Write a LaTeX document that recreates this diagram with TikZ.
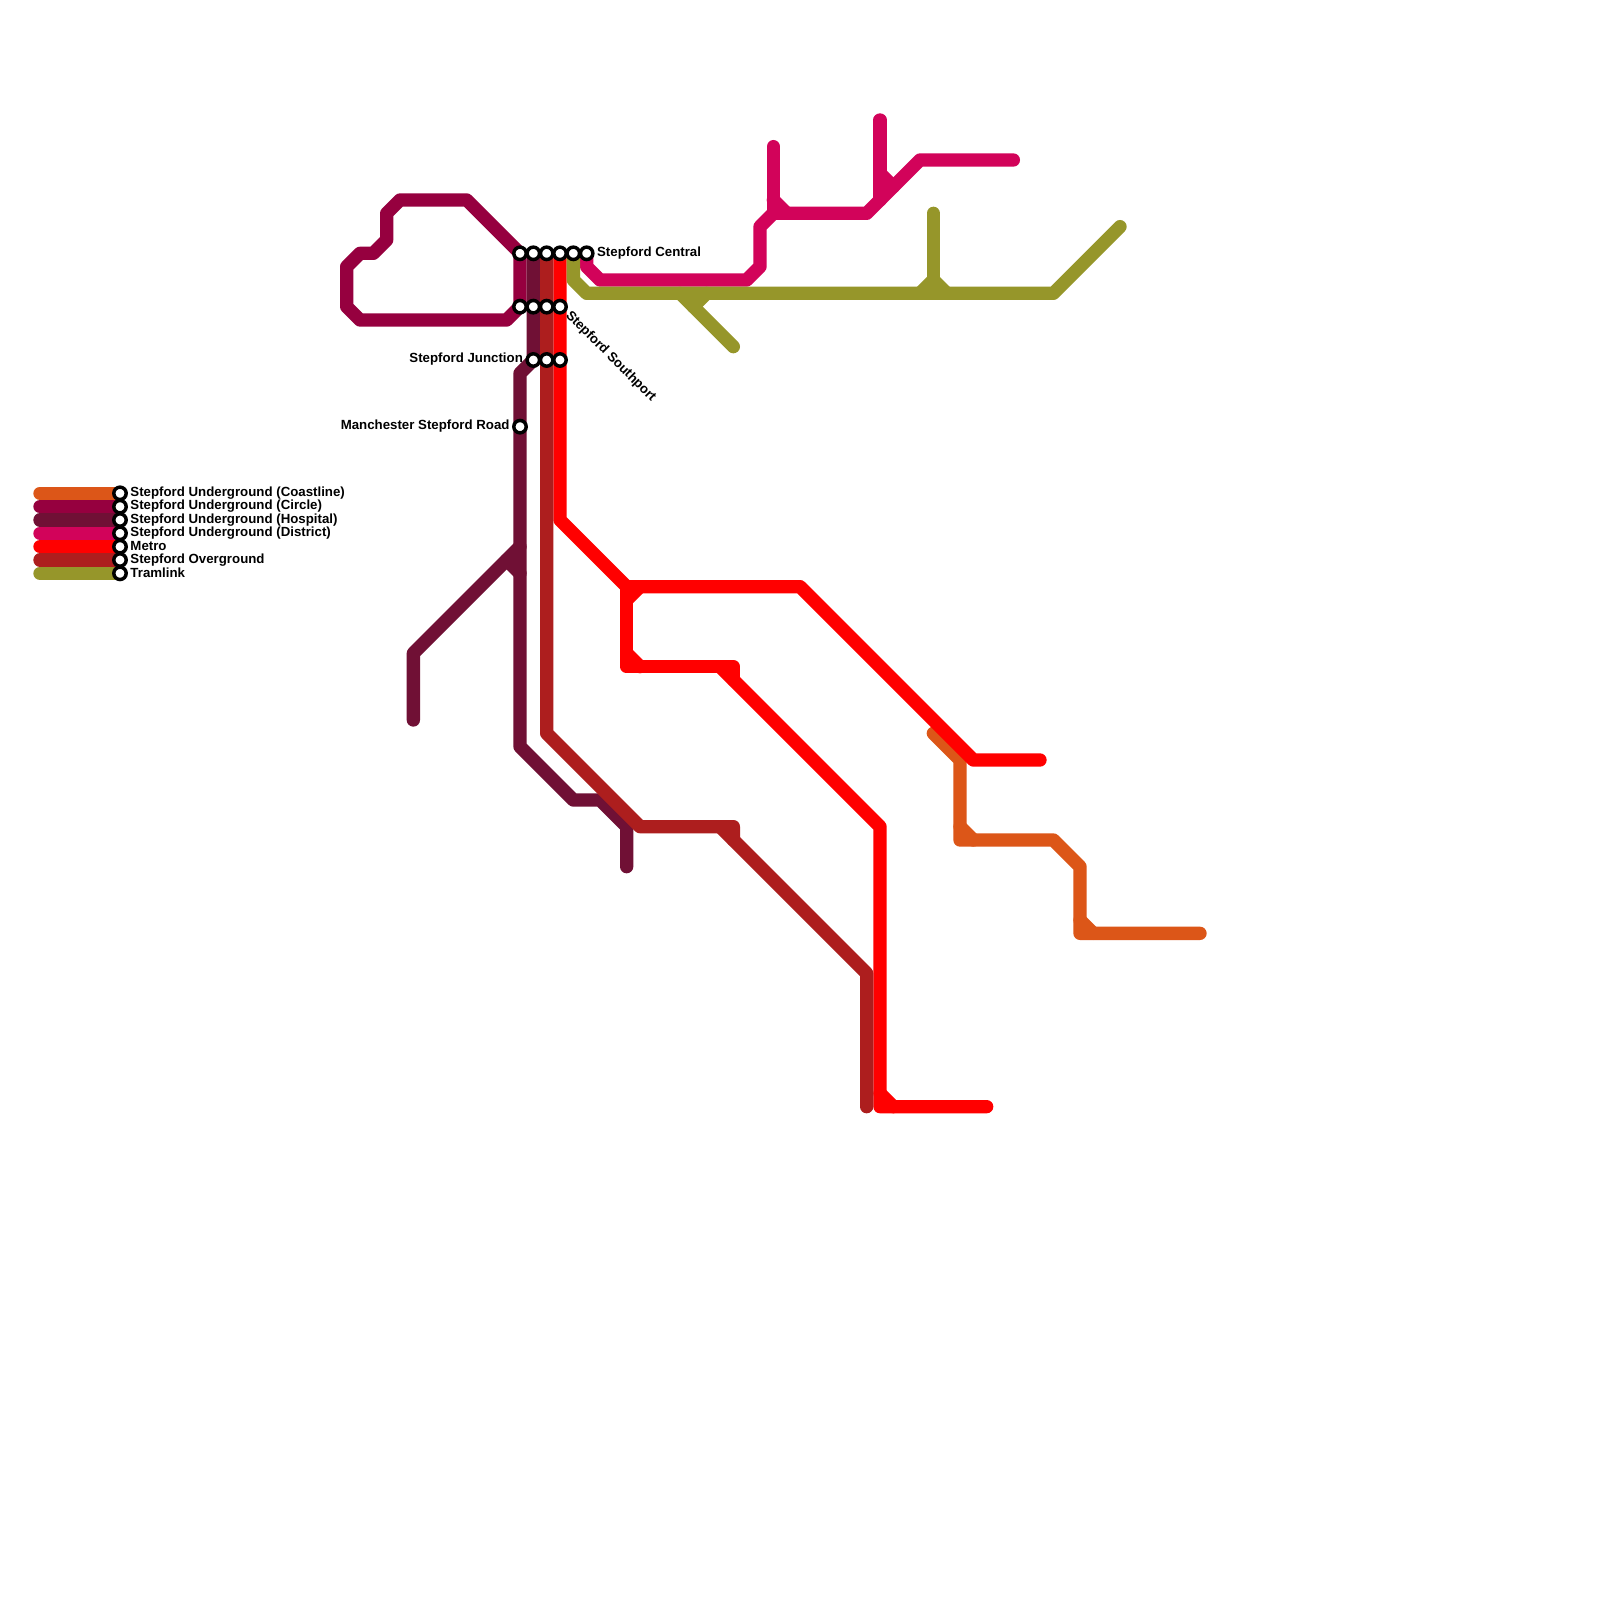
\documentclass[tikz,border=0pt]{standalone}
\usepackage{fontspec}
\setmainfont{Liberation Sans}
\definecolor{coast}{HTML}{DC5618}
\definecolor{circ}{HTML}{96003F}
\definecolor{hosp}{HTML}{701035}
\definecolor{dist}{HTML}{D2035A}
\definecolor{metro}{HTML}{FF0000}
\definecolor{over}{HTML}{AD1E1E}
\definecolor{tram}{HTML}{96962A}
\tikzset{
  rail/.style={line width=0.2cm,line cap=round,line join=round},
  stn/.style={circle,draw=black,fill=white,line width=0.052cm,minimum size=0.186cm,inner sep=0pt},
  lbl/.style={inner sep=0pt,font=\fontsize{5.66pt}{6.6pt}\selectfont\bfseries,text=black}
}
\begin{document}
\begin{tikzpicture}[x=0.2cm,y=-0.2cm]
\useasboundingbox (0,0) rectangle (120,120);
\fill[white] (0,0) rectangle (120,120);
% station positions
\coordinate (a1) at (39,19); \coordinate (a2) at (40,19); \coordinate (a3) at (41,19);
\coordinate (a4) at (42,19); \coordinate (a5) at (43,19); \coordinate (a6) at (44,19);
\coordinate (b1) at (39,23); \coordinate (b2) at (40,23); \coordinate (b3) at (41,23); \coordinate (b4) at (42,23);
\coordinate (c2) at (40,27); \coordinate (c3) at (41,27); \coordinate (c4) at (42,27);
\coordinate (d1) at (39,32);
\foreach \n/\y in {1/37,2/38,3/39,4/40,5/41,6/42,7/43}{
  \coordinate (kl\n) at (3,\y); \coordinate (kr\n) at (9,\y);
}
% Coastline
\draw[rail,coast] (70,55) -- (72,57) -- (72,63) -- (79,63) -- (81,65) -- (81,70) -- (90,70);
\draw[rail,coast] (72,62) -- (73,63);
\draw[rail,coast] (81,69) -- (82,70);
\draw[rail,coast] (kl1) -- (kr1);
% Circle
\draw[rail,circ] (a1) -- (35,15) -- (30,15) -- (29,16) -- (29,18) -- (28,19) -- (27,19) -- (26,20) -- (26,23) -- (27,24) -- (38,24) -- (b1) -- cycle;
\draw[rail,circ] (kl2) -- (kr2);
% Hospital
\draw[rail,hosp] (a2) -- (b2) -- (c2) -- (39,28) -- (d1) -- (39,56) -- (43,60) -- (45,60) -- (47,62) -- (47,65);
\draw[rail,hosp] (31,54) -- (31,49) -- (39,41);
\draw[rail,hosp] (38,42) -- (39,43);
\draw[rail,hosp] (kl3) -- (kr3);
% District
\draw[rail,dist] (a6) -- (44,20) -- (45,21) -- (56,21) -- (57,20) -- (57,17) -- (58,16) -- (65,16) -- (69,12) -- (76,12);
\draw[rail,dist] (58,11) -- (58,16);
\draw[rail,dist] (58,15) -- (59,16);
\draw[rail,dist] (66,9) -- (66,15);
\draw[rail,dist] (66,13) -- (67,14);
\draw[rail,dist] (kl4) -- (kr4);
% Metro
\draw[rail,metro] (a4) -- (b4) -- (c4) -- (42,39) -- (47,44) -- (60,44) -- (73,57) -- (78,57);
\draw[rail,metro] (47,44) -- (47,50) -- (55,50) -- (55,51);
\draw[rail,metro] (48,44) -- (47,45);
\draw[rail,metro] (47,49) -- (48,50);
\draw[rail,metro] (54,50) -- (66,62) -- (66,83) -- (74,83);
\draw[rail,metro] (66,82) -- (67,83);
\draw[rail,metro] (kl5) -- (kr5);
% Overground
\draw[rail,over] (a3) -- (b3) -- (c3) -- (41,55) -- (48,62) -- (55,62) -- (55,63);
\draw[rail,over] (54,62) -- (65,73) -- (65,83);
\draw[rail,over] (kl6) -- (kr6);
% Tramlink
\draw[rail,tram] (a5) -- (43,21) -- (44,22) -- (79,22) -- (84,17);
\draw[rail,tram] (51,22) -- (55,26);
\draw[rail,tram] (52,23) -- (53,22);
\draw[rail,tram] (70,16) -- (70,22);
\draw[rail,tram] (69,22) -- (70,21) -- (71,22);
\draw[rail,tram] (kl7) -- (kr7);
% Stations
\foreach \s in {a1,a2,a3,a4,a5,a6,b1,b2,b3,b4,c2,c3,c4,d1,kr1,kr2,kr3,kr4,kr5,kr6,kr7}{
  \node[stn] (st\s) at (\s) {};
}
% Labels
\node[lbl,anchor=west] (lcentral) at (44.75,18.98) {Stepford Central};
\node[lbl,anchor=east] (ljunction) at (39.25,26.95) {Stepford Junction};
\node[lbl,anchor=east] (lroad) at (38.25,31.98) {Manchester Stepford Road};
\node[lbl,anchor=west,rotate=-45] (lsouth) at (42.55,23.5) {Stepford Southport};
\node[lbl,anchor=west] (k1) at (9.75,36.98) {Stepford Underground (Coastline)};
\node[lbl,anchor=west] (k2) at (9.75,37.98) {Stepford Underground (Circle)};
\node[lbl,anchor=west] (k3) at (9.75,38.98) {Stepford Underground (Hospital)};
\node[lbl,anchor=west] (k4) at (9.75,39.98) {Stepford Underground (District)};
\node[lbl,anchor=west] (k5) at (9.75,40.98) {Metro};
\node[lbl,anchor=west] (k6) at (9.75,41.98) {Stepford Overground};
\node[lbl,anchor=west] (k7) at (9.75,42.98) {Tramlink};
\end{tikzpicture}
\end{document}
